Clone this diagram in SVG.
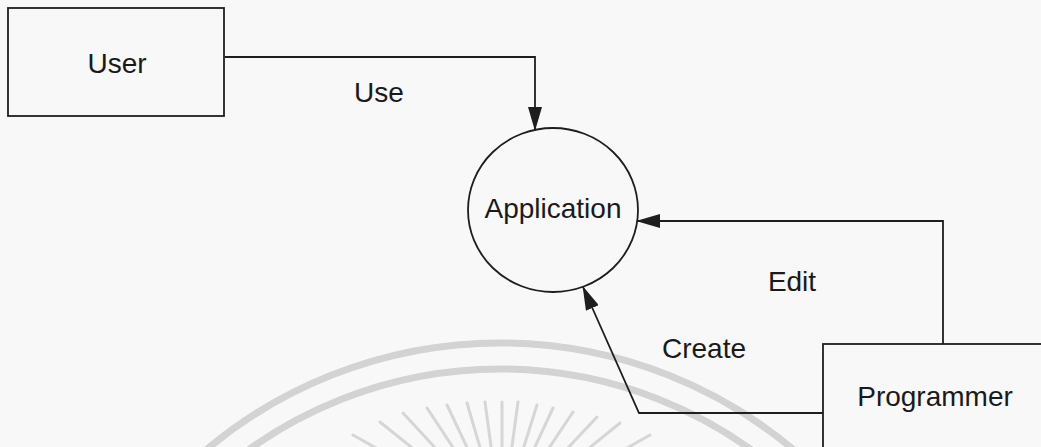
<svg xmlns="http://www.w3.org/2000/svg" width="1041" height="447" viewBox="0 0 1041 447">
  <style>
    .box { fill: none; stroke: #1e1e1e; stroke-width: 1.8; }
    .edge { fill: none; stroke: #1e1e1e; stroke-width: 1.8; }
    .label { font-family: "Liberation Sans", Arial, sans-serif; font-size: 28px; fill: #1a1a1a; text-anchor: middle; }
    .seal { fill: none; stroke: #d3d3d3; stroke-width: 7; }
    .ray { stroke: #d6d6d6; stroke-width: 3; stroke-linecap: round; }
  </style>
  <defs>
    <marker id="arrow" markerUnits="userSpaceOnUse" markerWidth="24" markerHeight="14" refX="23" refY="7" orient="auto">
      <path d="M0,0 L24,7 L0,14 z" fill="#1e1e1e"/>
    </marker>
  </defs>

  <rect x="0" y="0" width="1041" height="447" fill="#f8f8f8"/>

  <!-- background seal -->
  <g id="seal">
    <circle class="seal" cx="500" cy="800" r="457"/>
    <circle class="seal" cx="500" cy="800" r="431"/>
    <line class="ray" x1="353" y1="435" x2="427" y2="477"/>
    <line class="ray" x1="380" y1="422" x2="441" y2="471"/>
    <line class="ray" x1="403" y1="413" x2="452" y2="466"/>
    <line class="ray" x1="427" y1="408" x2="464" y2="464"/>
    <line class="ray" x1="447" y1="405" x2="474" y2="462"/>
    <line class="ray" x1="467" y1="403" x2="484" y2="461"/>
    <line class="ray" x1="485" y1="402" x2="493" y2="461"/>
    <line class="ray" x1="502" y1="402" x2="502" y2="461"/>
    <line class="ray" x1="518" y1="402" x2="510" y2="461"/>
    <line class="ray" x1="537" y1="405" x2="519" y2="462"/>
    <line class="ray" x1="553" y1="408" x2="527" y2="464"/>
    <line class="ray" x1="573" y1="412" x2="537" y2="466"/>
    <line class="ray" x1="597" y1="417" x2="549" y2="468"/>
    <line class="ray" x1="620" y1="423" x2="561" y2="471"/>
    <line class="ray" x1="650" y1="435" x2="576" y2="477"/>
  </g>

  <!-- connectors -->
  <g id="connectors">
    <path id="edge-use" class="edge" d="M225,57 H535 V130" marker-end="url(#arrow)"/>
    <path id="edge-edit" class="edge" d="M943,344 V221 H637" marker-end="url(#arrow)"/>
    <path id="edge-create" class="edge" d="M823,413 H639 L583,287" marker-end="url(#arrow)"/>
    <text class="label" x="379" y="102">Use</text>
    <text class="label" x="792" y="291">Edit</text>
    <text class="label" x="704" y="358">Create</text>
  </g>

  <!-- nodes -->
  <g id="node-user">
    <rect class="box" x="8" y="8" width="216" height="108"/>
    <text class="label" x="117" y="73">User</text>
  </g>
  <g id="node-application">
    <ellipse class="box" cx="553" cy="210" rx="85" ry="82"/>
    <text class="label" x="553" y="218">Application</text>
  </g>
  <g id="node-programmer">
    <rect class="box" x="823" y="344" width="300" height="200"/>
    <text class="label" x="935" y="406">Programmer</text>
  </g>
</svg>
